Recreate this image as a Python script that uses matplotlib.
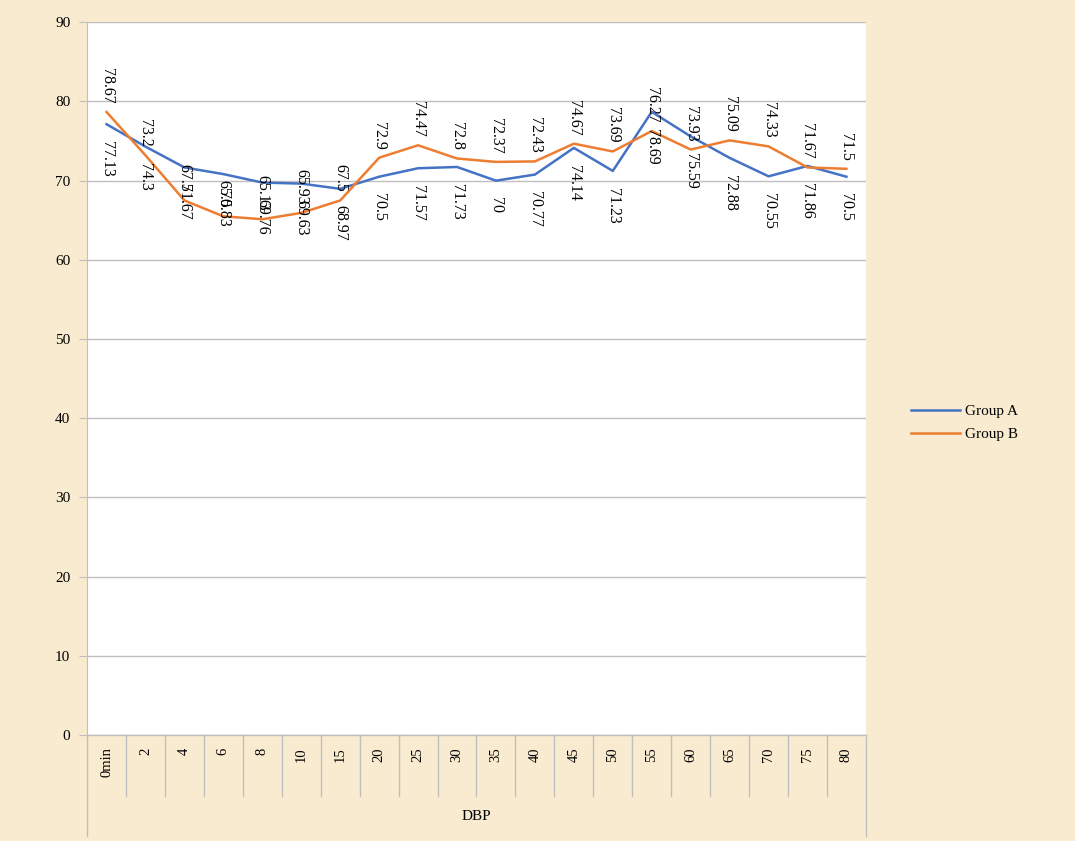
import matplotlib.pyplot as plt
import matplotlib.transforms as mtransforms

plt.rcParams['font.family'] = ['Liberation Serif', 'DejaVu Serif']

# time points (minutes) and mean diastolic pressure for each group
categories = ['0min', '2', '4', '6', '8', '10', '15', '20', '25', '30',
              '35', '40', '45', '50', '55', '60', '65', '70', '75', '80']
group_a = [77.13, 74.3, 71.67, 70.83, 69.76, 69.63, 68.97, 70.5, 71.57, 71.73,
           70, 70.77, 74.14, 71.23, 78.69, 75.59, 72.88, 70.55, 71.86, 70.5]
group_b = [78.67, 73.2, 67.5, 65.5, 65.13, 65.93, 67.5, 72.9, 74.47, 72.8,
           72.37, 72.43, 74.67, 73.69, 76.27, 73.93, 75.09, 74.33, 71.67, 71.5]
y_ticks = list(range(0, 91, 10))
axis_title = 'DBP'

blue = '#4472C4'
orange = '#ED7D31'
line_gray = '#BFBFBF'

fig = plt.figure(figsize=(10.75, 8.41), dpi=100, facecolor='#F9EBD0')
ax = fig.add_axes([0.081, 0.126, 0.7245, 0.8475])
ax.set_facecolor('white')

x = list(range(len(categories)))
ax.plot(x, group_a, color=blue, lw=1.8, label='Group A', zorder=3)
ax.plot(x, group_b, color=orange, lw=1.8, label='Group B', zorder=3)

# value labels: group B above its point, group A below
for xi, va_, vb_ in zip(x, group_a, group_b):
    ax.annotate(f'{vb_:g}', (xi, vb_), xytext=(0, 6), textcoords='offset points',
                rotation=270, ha='center', va='bottom', fontsize=11.5, zorder=4)
    ax.annotate(f'{va_:g}', (xi, va_), xytext=(0, -12), textcoords='offset points',
                rotation=270, ha='center', va='top', fontsize=11.5, zorder=4)

ax.set_xlim(-0.5, len(categories) - 0.5)
ax.set_ylim(0, 90)
ax.set_yticks(y_ticks)
ax.tick_params(axis='y', length=6, color=line_gray, labelsize=11, pad=6)
ax.yaxis.grid(True, color=line_gray, lw=1)
ax.set_axisbelow(True)

ax.set_xticks(x)
ax.set_xticklabels(categories, rotation=90, va='top', fontsize=10.5)
ax.tick_params(axis='x', length=0, pad=9)

for side in ['top', 'right', 'bottom']:
    ax.spines[side].set_visible(False)
ax.spines['left'].set_color(line_gray)

# category axis: separators between labels and the outer frame of the title row
trans = mtransforms.blended_transform_factory(ax.transData, ax.transAxes)
ax.plot([-0.5, len(categories) - 0.5], [0, 0], color=line_gray, lw=1,
        transform=trans, clip_on=False)
for k in range(len(categories) + 1):
    edge = k - 0.5
    bottom = -0.142 if k in (0, len(categories)) else -0.085
    ax.plot([edge, edge], [0, bottom], color=line_gray, lw=1,
            transform=trans, clip_on=False)
ax.text(0.5, -0.115, axis_title, transform=ax.transAxes, ha='center',
        va='center', fontsize=11)

fig.legend(loc='center left', bbox_to_anchor=(0.835, 0.497), frameon=False,
           fontsize=11, handlelength=3.2, handletextpad=0.3, labelspacing=0.6)

fig.savefig('out.png', dpi=100, facecolor=fig.get_facecolor())
